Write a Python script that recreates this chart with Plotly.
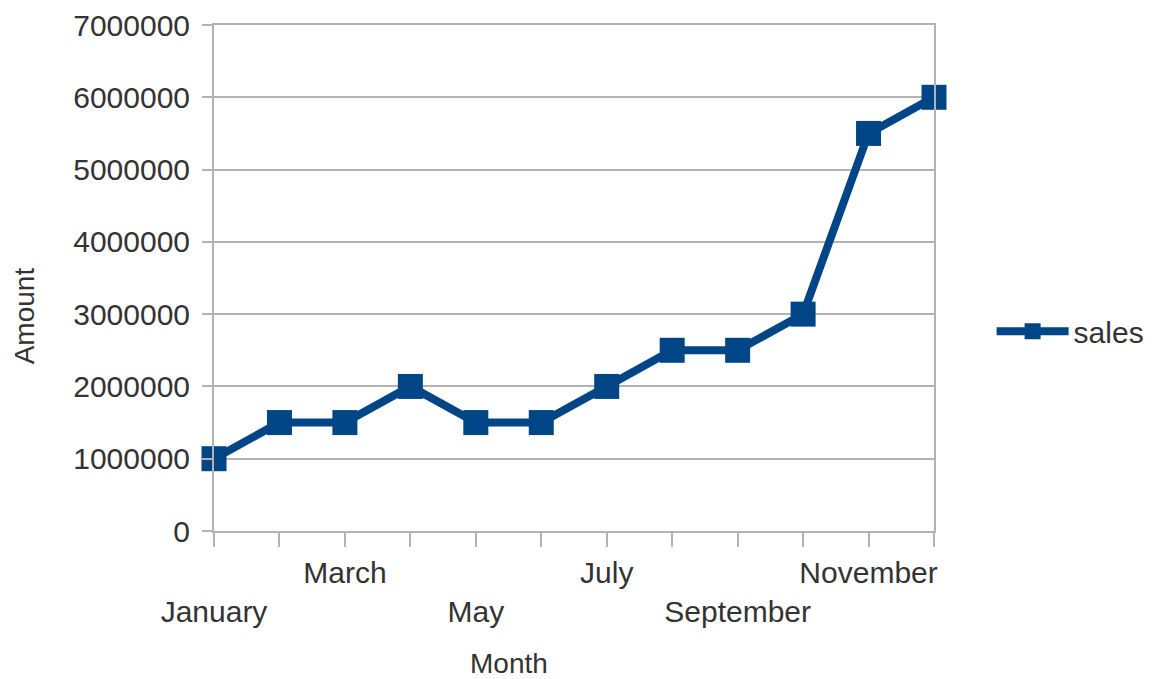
import plotly.graph_objects as go

months = ["January", "February", "March", "April", "May", "June", "July",
          "August", "September", "October", "November", "December"]
sales = [1000000, 1500000, 1500000, 2000000, 1500000, 1500000, 2000000,
         2500000, 2500000, 3000000, 5500000, 6000000]
# staggered tick labels: lower row prefixed with a line break
tick_labels = ["<br>January", "", "March", "", "<br>May", "", "July", "",
               "<br>September", "", "November", ""]
y_ticks = [0, 1000000, 2000000, 3000000, 4000000, 5000000, 6000000, 7000000]

BLUE = "#004586"
GRID = "#b3b3b3"
TXT = "#333333"
FONT = "Liberation Sans"

fig = go.Figure()
fig.add_trace(go.Scatter(
    x=months, y=sales, name="sales", mode="lines+markers",
    line=dict(color=BLUE, width=8),
    marker=dict(symbol="square", size=25, color=BLUE),
    cliponaxis=False,
))

fig.update_layout(
    width=1154, height=679,
    margin=dict(l=206, r=214, t=17, b=156),
    paper_bgcolor="white", plot_bgcolor="white",
    font=dict(family=FONT, size=30, color=TXT),
    showlegend=True,
    legend=dict(x=1.08, y=0.395, xanchor="left", yanchor="middle",
                itemwidth=72,
                font=dict(size=30, color=TXT), bgcolor="rgba(0,0,0,0)"),
    xaxis=dict(
        type="category", range=[0, 11], automargin=False,
        tickmode="array", tickvals=months, ticktext=tick_labels,
        tickangle=0,
        ticks="outside", ticklen=14, tickcolor=GRID, tickwidth=2,
        showline=True, linecolor=GRID, linewidth=2, mirror=True,
        showgrid=False, zeroline=False,
        tickfont=dict(size=30, color=TXT),
    ),
    yaxis=dict(
        range=[0, 7000000], tickmode="array", tickvals=y_ticks,
        tickformat="d", automargin=False,
        ticks="outside", ticklen=10, tickcolor=GRID, tickwidth=2,
        ticklabelstandoff=6,
        showline=True, linecolor=GRID, linewidth=2, mirror=True,
        showgrid=True, gridcolor=GRID, gridwidth=2, zeroline=False,
        tickfont=dict(size=30, color=TXT),
    ),
    annotations=[
        dict(text="Amount", xref="paper", yref="paper", x=-0.262, y=0.425,
             xanchor="center", yanchor="middle", textangle=-90,
             showarrow=False, font=dict(size=28, color=TXT)),
        dict(text="Month", xref="paper", yref="paper", x=0.41, y=-0.262,
             xanchor="center", yanchor="middle", showarrow=False,
             font=dict(size=28, color=TXT)),
    ],
)

fig.write_html("out.html")
